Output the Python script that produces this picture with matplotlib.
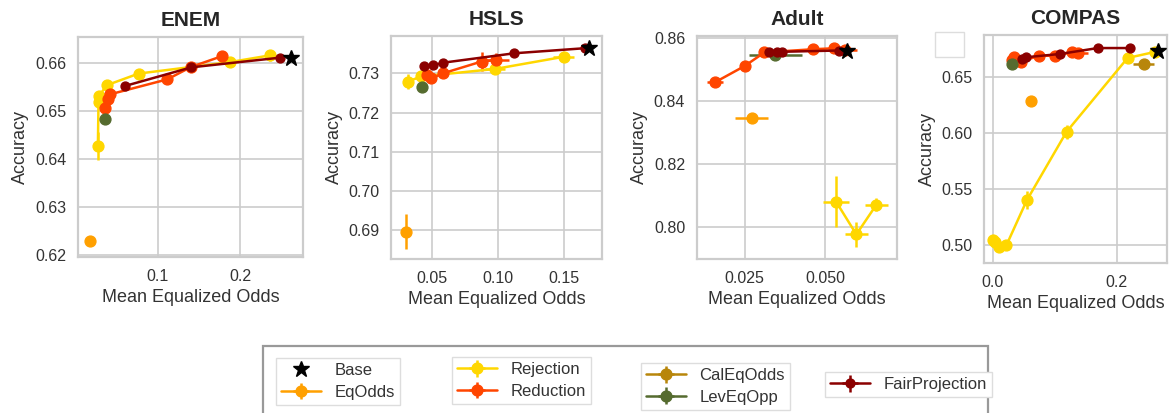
import matplotlib
matplotlib.use("Agg")
import matplotlib.pyplot as plt
from matplotlib.patches import Rectangle
import seaborn as sns

sns.set_style("whitegrid")
plt.rcParams["font.family"] = ["Liberation Sans", "DejaVu Sans"]
plt.rcParams["axes.edgecolor"] = "#cccccc"
plt.rcParams["axes.linewidth"] = 1.6
plt.rcParams["grid.color"] = "#cccccc"
plt.rcParams["grid.linewidth"] = 1.2

# ---------------- data: (mean equalized odds, accuracy) ----------------
datasets = ["ENEM", "HSLS", "Adult", "COMPAS"]

# ENEM
enem_base_x, enem_base_y = [0.262], [0.6610]
enem_eqodds_x, enem_eqodds_y = [0.0174], [0.6230]
enem_eqodds_xerr, enem_eqodds_yerr = [0.002], [0.0009]
enem_levopp_x, enem_levopp_y = [0.0352], [0.6483]
enem_levopp_xerr, enem_levopp_yerr = [0.001], [0.0005]
enem_rej_x = [0.0271, 0.0279, 0.0282, 0.0381, 0.0765, 0.1879, 0.2364]
enem_rej_y = [0.6426, 0.6518, 0.6530, 0.6553, 0.6577, 0.6601, 0.6615]
enem_rej_xerr = [0.001, 0.001, 0.001, 0.002, 0.002, 0.003, 0.003]
enem_rej_yerr = [0.0029, 0.0008, 0.0008, 0.0006, 0.0005, 0.0010, 0.0012]
enem_red_x = [0.0352, 0.0393, 0.0421, 0.1113, 0.1405, 0.1773]
enem_red_y = [0.6506, 0.6525, 0.6534, 0.6565, 0.6591, 0.6613]
enem_red_xerr = [0.001, 0.001, 0.001, 0.002, 0.002, 0.003]
enem_red_yerr = [0.0005, 0.0005, 0.0005, 0.0005, 0.0005, 0.0005]
enem_fp_x = [0.0595, 0.1405, 0.2478]
enem_fp_y = [0.6551, 0.6590, 0.6610]
enem_fp_xerr = [0.001, 0.001, 0.001]
enem_fp_yerr = [0.0003, 0.0003, 0.0003]

# HSLS
hsls_base_x, hsls_base_y = [0.1685], [0.7364]
hsls_eqodds_x, hsls_eqodds_y = [0.0300], [0.6897]
hsls_eqodds_xerr, hsls_eqodds_yerr = [0.001], [0.0044]
hsls_levopp_x, hsls_levopp_y = [0.0424], [0.7264]
hsls_levopp_xerr, hsls_levopp_yerr = [0.001], [0.0008]
hsls_rej_x = [0.0318, 0.0419, 0.0976, 0.1495]
hsls_rej_y = [0.7279, 0.7292, 0.7311, 0.7342]
hsls_rej_xerr = [0.003, 0.002, 0.0076, 0.008]
hsls_rej_yerr = [0.0020, 0.0010, 0.0010, 0.0010]
hsls_red_x = [0.0465, 0.0495, 0.0584, 0.0875, 0.0981]
hsls_red_y = [0.7296, 0.7287, 0.7300, 0.7330, 0.7334]
hsls_red_xerr = [0.002, 0.002, 0.002, 0.004, 0.010]
hsls_red_yerr = [0.0008, 0.0008, 0.0008, 0.0025, 0.0018]
hsls_fp_x = [0.0439, 0.0508, 0.0584, 0.1123, 0.1660]
hsls_fp_y = [0.7319, 0.7320, 0.7327, 0.7351, 0.7364]
hsls_fp_xerr = [0.001, 0.001, 0.001, 0.001, 0.001]
hsls_fp_yerr = [0.0005, 0.0005, 0.0005, 0.0005, 0.0005]

# Adult
adult_base_x, adult_base_y = [0.0567], [0.8561]
adult_eqodds_x, adult_eqodds_y = [0.0271], [0.8348]
adult_eqodds_xerr, adult_eqodds_yerr = [0.005], [0.0005]
adult_levopp_x, adult_levopp_y = [0.0345], [0.8547]
adult_levopp_xerr, adult_levopp_yerr = [0.0083], [0.0005]
adult_rej_x = [0.0533, 0.0596, 0.0658]
adult_rej_y = [0.8082, 0.7978, 0.8072]
adult_rej_xerr = [0.004, 0.0035, 0.0035]
adult_rej_yerr = [0.0080, 0.0040, 0.0020]
adult_red_x = [0.0159, 0.0250, 0.0311, 0.0462, 0.0526, 0.0562]
adult_red_y = [0.8461, 0.8512, 0.8555, 0.8565, 0.8568, 0.8562]
adult_red_xerr = [0.0025, 0.0015, 0.0015, 0.001, 0.001, 0.0035]
adult_red_yerr = [0.0005, 0.0005, 0.0005, 0.0005, 0.0005, 0.0005]
adult_fp_x = [0.0324, 0.0350, 0.0366, 0.0541]
adult_fp_y = [0.8556, 0.8556, 0.8557, 0.8561]
adult_fp_xerr = [0.0005, 0.0005, 0.0005, 0.0005]
adult_fp_yerr = [0.0003, 0.0003, 0.0003, 0.0003]

# COMPAS
compas_base_x, compas_base_y = [0.2658], [0.6728]
compas_eqodds_x, compas_eqodds_y = [0.0614], [0.6284]
compas_eqodds_xerr, compas_eqodds_yerr = [0.003], [0.002]
compas_levopp_x, compas_levopp_y = [0.0312], [0.6612]
compas_levopp_xerr, compas_levopp_yerr = [0.002], [0.001]
compas_cal_x, compas_cal_y = [0.2438], [0.6612]
compas_cal_xerr, compas_cal_yerr = [0.017], [0.003]
compas_rej_x = [0.0000, 0.0040, 0.0104, 0.0219, 0.0548, 0.1189, 0.2175, 0.2620]
compas_rej_y = [0.5050, 0.5030, 0.4982, 0.5000, 0.5400, 0.6009, 0.6666, 0.6720]
compas_rej_xerr = [0.003, 0.003, 0.003, 0.003, 0.004, 0.004, 0.005, 0.003]
compas_rej_yerr = [0.002, 0.002, 0.002, 0.002, 0.008, 0.0065, 0.003, 0.001]
compas_red_x = [0.0312, 0.0340, 0.0450, 0.0750, 0.0997, 0.1270, 0.1380]
compas_red_y = [0.6650, 0.6670, 0.6633, 0.6686, 0.6686, 0.6716, 0.6710]
compas_red_xerr = [0.002, 0.002, 0.002, 0.003, 0.003, 0.004, 0.016]
compas_red_yerr = [0.001, 0.001, 0.001, 0.001, 0.001, 0.001, 0.001]
compas_fp_x = [0.0466, 0.0530, 0.1080, 0.1693, 0.2219]
compas_fp_y = [0.6657, 0.6672, 0.6701, 0.6754, 0.6754]
compas_fp_xerr = [0.001, 0.001, 0.001, 0.001, 0.001]
compas_fp_yerr = [0.0005, 0.0005, 0.0005, 0.0005, 0.0005]

# ---------------- styles ----------------
colors = {
    "EqOdds": "#FFA000",
    "Rejection": "#FFD700",
    "Reduction": "#FF4500",
    "CalEqOdds": "#B8860B",
    "LevEqOpp": "#556B2F",
    "FairProjection": "#8B0000",
}

series = {
    "ENEM": [
        ("EqOdds", enem_eqodds_x, enem_eqodds_y, enem_eqodds_xerr, enem_eqodds_yerr),
        ("Rejection", enem_rej_x, enem_rej_y, enem_rej_xerr, enem_rej_yerr),
        ("Reduction", enem_red_x, enem_red_y, enem_red_xerr, enem_red_yerr),
        ("LevEqOpp", enem_levopp_x, enem_levopp_y, enem_levopp_xerr, enem_levopp_yerr),
        ("FairProjection", enem_fp_x, enem_fp_y, enem_fp_xerr, enem_fp_yerr),
    ],
    "HSLS": [
        ("EqOdds", hsls_eqodds_x, hsls_eqodds_y, hsls_eqodds_xerr, hsls_eqodds_yerr),
        ("Rejection", hsls_rej_x, hsls_rej_y, hsls_rej_xerr, hsls_rej_yerr),
        ("Reduction", hsls_red_x, hsls_red_y, hsls_red_xerr, hsls_red_yerr),
        ("LevEqOpp", hsls_levopp_x, hsls_levopp_y, hsls_levopp_xerr, hsls_levopp_yerr),
        ("FairProjection", hsls_fp_x, hsls_fp_y, hsls_fp_xerr, hsls_fp_yerr),
    ],
    "Adult": [
        ("EqOdds", adult_eqodds_x, adult_eqodds_y, adult_eqodds_xerr, adult_eqodds_yerr),
        ("Rejection", adult_rej_x, adult_rej_y, adult_rej_xerr, adult_rej_yerr),
        ("Reduction", adult_red_x, adult_red_y, adult_red_xerr, adult_red_yerr),
        ("LevEqOpp", adult_levopp_x, adult_levopp_y, adult_levopp_xerr, adult_levopp_yerr),
        ("FairProjection", adult_fp_x, adult_fp_y, adult_fp_xerr, adult_fp_yerr),
    ],
    "COMPAS": [
        ("EqOdds", compas_eqodds_x, compas_eqodds_y, compas_eqodds_xerr, compas_eqodds_yerr),
        ("Rejection", compas_rej_x, compas_rej_y, compas_rej_xerr, compas_rej_yerr),
        ("Reduction", compas_red_x, compas_red_y, compas_red_xerr, compas_red_yerr),
        ("CalEqOdds", compas_cal_x, compas_cal_y, compas_cal_xerr, compas_cal_yerr),
        ("LevEqOpp", compas_levopp_x, compas_levopp_y, compas_levopp_xerr, compas_levopp_yerr),
        ("FairProjection", compas_fp_x, compas_fp_y, compas_fp_xerr, compas_fp_yerr),
    ],
}
bases = {
    "ENEM": (enem_base_x, enem_base_y),
    "HSLS": (hsls_base_x, hsls_base_y),
    "Adult": (adult_base_x, adult_base_y),
    "COMPAS": (compas_base_x, compas_base_y),
}

W, H = 1170, 413
# axes boxes in pixels: left, top, right, bottom
boxes = {
    "ENEM": (78, 37, 303, 257),
    "HSLS": (391, 36, 602, 259),
    "Adult": (697, 36, 897, 259),
    "COMPAS": (984, 35, 1167, 263),
}
limits = {
    "ENEM": ((0.003, 0.276), (0.6196, 0.6653)),
    "HSLS": ((0.019, 0.1786), (0.6827, 0.7395)),
    "Adult": ((0.0102, 0.0722), (0.790, 0.8607)),
    "COMPAS": ((-0.0142, 0.281), (0.4843, 0.687)),
}
xticks = {
    "ENEM": ([0.1, 0.2], ["0.1", "0.2"]),
    "HSLS": ([0.05, 0.10, 0.15], ["0.05", "0.10", "0.15"]),
    "Adult": ([0.025, 0.050], ["0.025", "0.050"]),
    "COMPAS": ([0.0, 0.2], ["0.0", "0.2"]),
}
yticks = {
    "ENEM": [0.62, 0.63, 0.64, 0.65, 0.66],
    "HSLS": [0.69, 0.70, 0.71, 0.72, 0.73],
    "Adult": [0.80, 0.82, 0.84, 0.86],
    "COMPAS": [0.50, 0.55, 0.60, 0.65],
}

fig = plt.figure(figsize=(W / 100, H / 100), dpi=100)
handles = {}

for name in datasets:
    l, t, r, b = boxes[name]
    ax = fig.add_axes([l / W, 1 - b / H, (r - l) / W, (b - t) / H])
    for label, x, y, xe, ye in series[name]:
        small = label == "FairProjection"
        cont = ax.errorbar(
            x, y, xerr=xe, yerr=ye, fmt="-o", color=colors[label],
            ms=6.4 if small else 7.8, lw=1.8, elinewidth=1.8, capsize=0,
            label=label,
        )
        handles.setdefault(label, cont)
    bx, by = bases[name]
    star, = ax.plot(bx, by, linestyle="none", marker="*", ms=12,
                    color="black", label="Base", zorder=10)
    handles.setdefault("Base", star)

    ax.set_xlim(*limits[name][0])
    ax.set_ylim(*limits[name][1])
    ax.set_xticks(xticks[name][0])
    ax.set_xticklabels(xticks[name][1])
    ax.set_yticks(yticks[name])
    ax.set_yticklabels([f"{v:.2f}" for v in yticks[name]])
    ax.tick_params(labelsize=11.5, pad=5)
    for lab in ax.get_xticklabels() + ax.get_yticklabels():
        lab.set_color("#333333")
    ax.set_title(name, fontsize=15, fontweight="bold", pad=8)
    ax.set_xlabel("Mean Equalized Odds", fontsize=13, color="#333333")
    ax.set_ylabel("Accuracy", fontsize=13, color="#333333")

# outer frame around the legend groups
fig.patches.append(Rectangle((263 / W, -0.1), (988 - 263) / W, 0.1 + 1 - 346 / H,
                             transform=fig.transFigure, fill=False,
                             edgecolor="#999999", lw=1.6))
# small empty box above the COMPAS axis
fig.patches.append(Rectangle((935 / W, 1 - 57 / H), 29 / W, 25 / H,
                             transform=fig.transFigure, facecolor="white",
                             edgecolor="#dddddd", lw=1.0))

groups = [
    (["Base", "EqOdds"], 276, 358),
    (["Rejection", "Reduction"], 452, 357),
    (["CalEqOdds", "LevEqOpp"], 641, 363),
    (["FairProjection"], 825, 372),
]
for labels, px, py in groups:
    leg = fig.legend([handles[k] for k in labels], labels, loc="upper left",
                     bbox_to_anchor=(px / W, 1 - py / H), fontsize=12,
                     frameon=True, fancybox=False, edgecolor="#dddddd",
                     framealpha=1, handlelength=2.4, handletextpad=0.8,
                     borderpad=0.3, labelspacing=0.4, borderaxespad=0)
    leg.get_frame().set_linewidth(1.0)
    for txt in leg.get_texts():
        txt.set_color("#333333")

fig.savefig("out.png", dpi=100)
